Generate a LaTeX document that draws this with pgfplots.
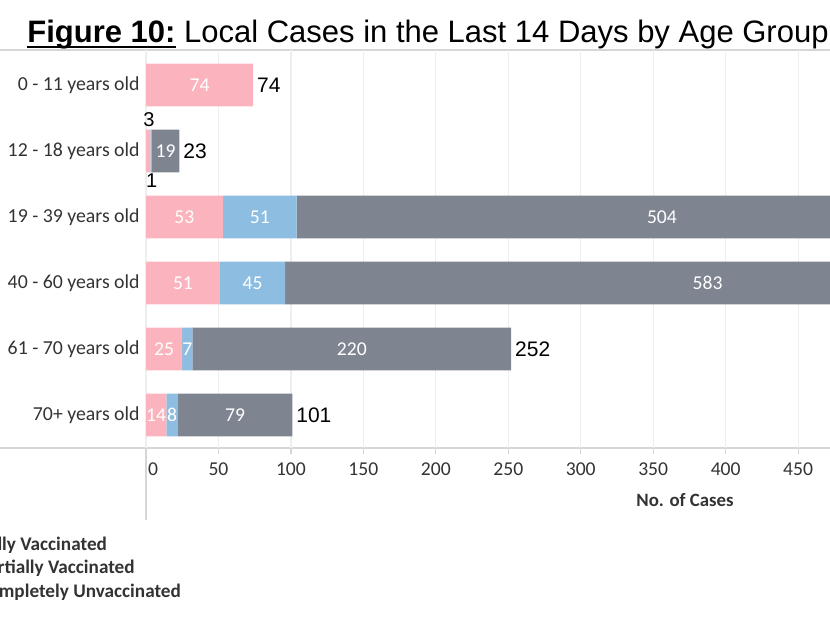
\documentclass[border=0pt]{standalone}
\usepackage{pgfplots}
\pgfplotsset{compat=1.18}
\usepackage{pgfplotstable}
\usepackage{fontspec}
\setmainfont{Carlito}
\newfontfamily\arial{Liberation Sans}
\newcommand\myuline[1]{\setbox0\hbox{#1}\rlap{\rule[-2.6pt]{\wd0}{1pt}}\box0\relax}

\definecolor{fullvac}{HTML}{FBB4BE}
\definecolor{partvac}{HTML}{8DBDE0}
\definecolor{unvac}{HTML}{7E8590}
\definecolor{gridgray}{HTML}{EEEEEE}
\definecolor{linegray}{HTML}{D6D6D6}
\definecolor{txt}{HTML}{333333}

% rows from the bottom: 0 = 70+ ... 5 = 0-11
\pgfplotstableread{
y full part unvac total
5 74 0 0 74
4 3 1 19 23
3 53 51 504 608
2 51 45 583 679
1 25 7 220 252
0 14 8 79 101
}\cases

\pgfplotstableread{
x y label
37 5 74
13.5 4 19
26.5 3 53
78.5 3 51
356 3 504
25.5 2 51
73.5 2 45
387.5 2 583
12.5 1 25
28.5 1 7
142 1 220
7 0 14
18 0 8
61.5 0 79
}\inlabels

\pgfplotstableread{
x y label
2 4.47 3
4 3.55 1
}\smalllabels

\pgfplotsset{
  frame/.style={
    width=342pt, height=199pt, scale only axis,
    at={(73pt,286pt)}, anchor=north west,
    xmin=0, xmax=472, ymin=-0.5, ymax=5.53,
  },
}

\begin{document}
\begin{tikzpicture}[x=0.5pt,y=0.5pt]
\path[use as bounding box] (0,0) rectangle (830,622);
\clip (0,0) rectangle (830,622);

% frame lines
\draw[linegray, line width=0.6pt] (0,572) -- (830,572);
\draw[linegray, line width=0.8pt] (0,174) -- (830,174);
\draw[linegray, line width=0.8pt] (146,572) -- (146,102);

\begin{axis}[frame,
  xbar stacked, bar width=0.65,
  axis line style={draw=none},
  xtick={0,50,...,450},
  xticklabels={\rlap{\hspace{1pt}0},50,100,150,200,250,300,350,400,450},
  xtick pos=left, tick align=outside,
  major tick length=3pt,
  xtick style={draw=linegray, line width=0.6pt},
  xmajorgrids, major grid style={draw=gridgray, line width=0.6pt},
  xticklabel style={font=\fontsize{9.8}{11}\selectfont, text=txt, inner sep=0pt, yshift=-4pt},
  ytick={0,...,5},
  yticklabels={70+ years old, 61 - 70 years old, 40 - 60 years old, 19 - 39 years old, 12 - 18 years old, 0 - 11 years old},
  ytick style={draw=none},
  yticklabel style={font=\fontsize{9.9}{11}\selectfont, text=txt, anchor=east, inner sep=0pt, xshift=0pt},
  xlabel={No. of Cases},
  xlabel style={at={(axis description cs:0.788,0)}, anchor=center, yshift=-26pt, font=\bfseries\fontsize{9.4}{11}\selectfont, text=txt},
]
\addplot[fill=fullvac, draw=none] table[x=full, y=y] {\cases};
\addplot[fill=partvac, draw=none] table[x=part, y=y] {\cases};
\addplot[fill=unvac, draw=none] table[x=unvac, y=y] {\cases};
\end{axis}

\begin{axis}[frame, hide axis, clip=false]
\addplot[draw=none, mark=none, nodes near coords={\pgfplotspointmeta},
  point meta=explicit symbolic,
  every node near coord/.style={anchor=center, inner sep=0pt, text=white, font=\fontsize{9.8}{11}\selectfont}]
  table[x=x, y=y, meta=label] {\inlabels};
\addplot[draw=none, mark=none, nodes near coords={\pgfplotspointmeta},
  point meta=explicit symbolic,
  every node near coord/.style={anchor=west, inner sep=0pt, xshift=1.8pt, text=black, font=\arial\fontsize{10.5}{12}\selectfont}]
  table[x=total, y=y, meta=total] {\cases};
\addplot[draw=none, mark=none, nodes near coords={\pgfplotspointmeta},
  point meta=explicit symbolic,
  every node near coord/.style={anchor=center, inner sep=0pt, text=black, font=\arial\fontsize{10}{11}\selectfont}]
  table[x=x, y=y, meta=label] {\smalllabels};
\end{axis}

% title
\node[anchor=base west, inner sep=0pt] at (27,579)
  {\arial\fontsize{15.5}{18}\selectfont\myuline{\textbf{Figure 10:}} Local Cases in the Last 14 Days by Age Group};

% legend (cut off at the left edge, as in the source)
\begin{scope}[every node/.style={anchor=base west, inner sep=0pt, text=txt, font=\bfseries\fontsize{9.6}{11}\selectfont}]
\node at (-22,72) {Fully Vaccinated};
\node at (-22,49) {Partially Vaccinated};
\node at (-22,25) {Completely Unvaccinated};
\end{scope}
\end{tikzpicture}
\end{document}
